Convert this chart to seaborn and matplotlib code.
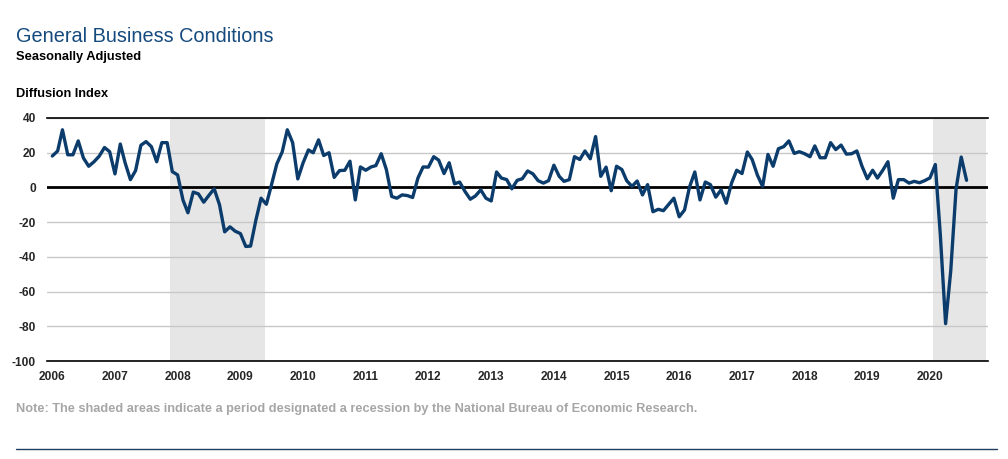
import matplotlib
matplotlib.use("Agg")
import matplotlib.pyplot as plt
from matplotlib.lines import Line2D
import seaborn as sns
import pandas as pd

# ---------------- data ----------------
start_month = "2006-01-01"
values = [
    # 2006
    18.1, 21.0, 33.2, 18.8, 18.8, 26.8, 17.0, 12.2, 14.8, 18.0, 23.0, 20.6,
    # 2007
    7.8, 25.0, 14.2, 4.5, 9.7, 24.3, 26.4, 23.5, 14.8, 25.8, 25.8, 9.1,
    # 2008
    7.2, -7.2, -14.6, -2.7, -3.7, -8.5, -4.6, -0.8, -10.0, -25.6, -22.7, -25.2,
    # 2009
    -26.6, -34.0, -33.8, -18.8, -6.2, -9.7, 1.6, 13.6, 20.4, 33.2, 25.8, 4.9,
    # 2010
    14.2, 21.6, 20.0, 27.4, 18.4, 20.0, 5.8, 9.7, 9.9, 15.1, -7.2, 11.8,
    # 2011
    9.9, 11.8, 12.6, 19.4, 10.3, -5.2, -6.2, -4.3, -4.7, -5.8, 5.4, 11.8,
    # 2012
    11.7, 17.7, 15.7, 8.0, 14.2, 2.1, 3.1, -2.3, -6.8, -4.9, -1.4, -6.2,
    # 2013
    -7.8, 8.9, 5.4, 4.5, -0.8, 4.1, 5.0, 9.5, 7.8, 3.9, 2.5, 3.9,
    # 2014
    12.8, 6.4, 3.5, 4.5, 17.7, 16.1, 21.0, 16.5, 29.3, 6.4, 11.7, -1.9,
    # 2015
    12.2, 10.3, 3.9, 0.6, 3.7, -4.3, 1.6, -14.0, -12.6, -13.4, -9.7, -6.2,
    # 2016
    -16.9, -13.0, 0.2, 8.9, -7.2, 3.1, 1.6, -5.6, -1.4, -9.1, 2.5, 9.9,
    # 2017
    8.0, 20.4, 16.1, 7.0, 0.6, 19.0, 12.2, 22.3, 23.5, 26.8, 19.6, 20.6,
    # 2018
    19.4, 17.7, 23.9, 17.1, 17.1, 25.8, 21.8, 24.4, 19.2, 19.4, 21.0, 12.2,
    # 2019
    5.0, 9.9, 5.4, 9.9, 14.8, -6.2, 4.5, 4.5, 2.5, 3.5, 2.7, 3.9,
    # 2020
    5.5, 13.2, -27.0, -78.5, -48.0, -0.8, 17.5, 4.1,
]
recessions = [("2007-12-01", "2009-06-01"), ("2020-02-01", "2020-12-01")]
year_ticks = list(range(2006, 2021))
y_ticks = [40, 20, 0, -20, -40, -60, -80, -100]
tick_colors = ["#4a86c5", "#d9922e", "#4a86c5", "#4a86c5", "#4a86c5", "#4a86c5",
               "#b5653a", "#d9922e", "#6a3d9a", "#b5653a", "#d9922e", "#6a3d9a",
               "#b5653a", "#4a86c5", "#6a3d9a"]

title = "General Business Conditions"
subtitle = "Seasonally Adjusted"
ylabel = "Diffusion Index"
note = "Note: The shaded areas indicate a period designated a recession by the National Bureau of Economic Research."

dates = pd.date_range(start_month, periods=len(values), freq="MS")
df = pd.DataFrame({"date": dates, "value": values})

# ---------------- style ----------------
sns.set_style("white")
plt.rcParams["font.family"] = ["Liberation Sans", "DejaVu Sans"]

W, H = 1008, 459
fig = plt.figure(figsize=(W / 100, H / 100), dpi=100)
ax = fig.add_axes([47 / W, 1 - 361 / H, (988 - 47) / W, (361 - 118) / H])

# recession shading
for s, e in recessions:
    ax.axvspan(pd.Timestamp(s) - pd.Timedelta(days=15),
               pd.Timestamp(e) - pd.Timedelta(days=10),
               color="#e6e6e6", lw=0, zorder=0)

sns.lineplot(data=df, x="date", y="value", ax=ax, color="#0b3c6c",
             linewidth=2.4, zorder=3)

ax.set_ylim(-100, 40)
ax.set_xlim(pd.Timestamp("2005-12-01"), pd.Timestamp("2020-12-04"))
ax.set_yticks(y_ticks)
ax.set_yticklabels([str(v) for v in y_ticks], fontweight="bold", fontsize=8.6)
ax.yaxis.grid(True, color="#c8c8c8", lw=1, zorder=0.5)
ax.xaxis.grid(False)
ax.set_axisbelow(True)
ax.axhline(0, color="black", lw=2, zorder=2)
ax.tick_params(axis="y", length=0, pad=8)

xt = [pd.Timestamp(f"{y}-01-01") for y in year_ticks]
ax.set_xticks(xt)
ax.set_xticklabels([str(y) for y in year_ticks], fontweight="bold", fontsize=8.6)
ax.tick_params(axis="x", direction="in", length=5, width=1.1, pad=7)
for t, c in zip(ax.xaxis.get_major_ticks(), tick_colors):
    t.tick1line.set_color(c)

for sp in ["left", "right"]:
    ax.spines[sp].set_visible(False)
for sp in ["top", "bottom"]:
    ax.spines[sp].set_visible(True)
    ax.spines[sp].set_color("black")
    ax.spines[sp].set_linewidth(1.2)
ax.set_xlabel("")
ax.set_ylabel("")

# ---------------- texts ----------------
fig.text(16 / W, 1 - 42.5 / H, title, color="#154a7e", fontsize=14.3,
         va="baseline", ha="left")
fig.text(16 / W, 1 - 60 / H, subtitle, color="black", fontsize=9.3,
         fontweight="bold", va="baseline", ha="left")
fig.text(16 / W, 1 - 97 / H, ylabel, color="black", fontsize=9.2,
         fontweight="bold", va="baseline", ha="left")
fig.text(16 / W, 1 - 412 / H, note, color="#a6a6a6", fontsize=9.2,
         fontweight="bold", va="baseline", ha="left")
fig.add_artist(Line2D([16 / W, 997 / W], [1 - 449 / H, 1 - 449 / H],
                      color="#1f3d5c", lw=1))

fig.savefig("out.png", dpi=100)
